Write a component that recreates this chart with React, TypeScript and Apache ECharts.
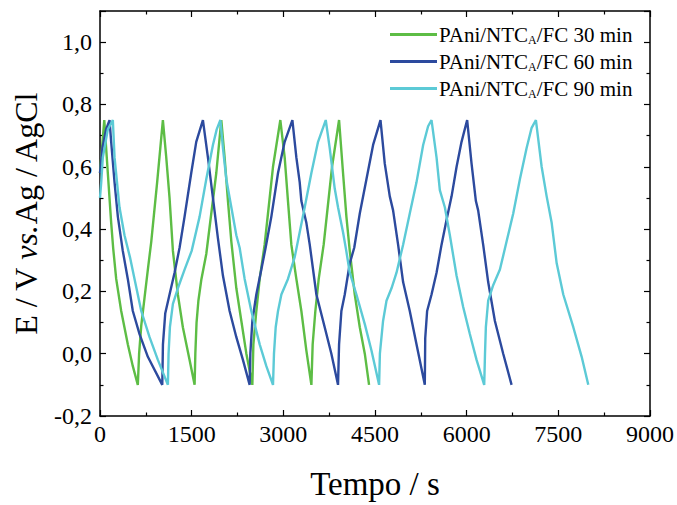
import React, { useEffect, useRef } from 'react';
import * as echarts from 'echarts';

const seriesNames = ['PAni/NTCA/FC 30 min', 'PAni/NTCA/FC 60 min', 'PAni/NTCA/FC 90 min'];
const seriesColors = ['#5dbd45', '#2c4a9e', '#5ccad6'];
const xTickValues = [0, 1500, 3000, 4500, 6000, 7500, 9000];
const yTickValues = [-0.2, 0.0, 0.2, 0.4, 0.6, 0.8, 1.0];

const green30: number[][] = [
  [0, 0.58], [70, 0.75],
  [128, 0.58], [183, 0.42], [215, 0.34], [265, 0.24], [347, 0.137], [455, 0.03], [537, -0.04], [619, -0.1],
  [640, 0.0], [675, 0.09], [729, 0.18], [783, 0.27], [839, 0.36], [935, 0.55], [1029, 0.75],
  [1084, 0.63], [1138, 0.5], [1193, 0.33], [1274, 0.19], [1356, 0.085], [1466, -0.02], [1548, -0.1],
  [1560, 0.0], [1580, 0.1], [1610, 0.17], [1660, 0.24], [1739, 0.32], [1903, 0.58], [1985, 0.75],
  [2039, 0.63], [2094, 0.49], [2149, 0.36], [2231, 0.21], [2313, 0.105], [2395, 0.0], [2493, -0.1],
  [2510, 0.03], [2558, 0.137], [2613, 0.24], [2694, 0.35], [2749, 0.45], [2831, 0.6], [2951, 0.75],
  [3022, 0.63], [3076, 0.49], [3131, 0.35], [3213, 0.24], [3295, 0.137], [3377, 0.01], [3459, -0.1],
  [3480, 0.03], [3524, 0.137], [3579, 0.24], [3660, 0.35], [3715, 0.45], [3797, 0.6], [3912, 0.75],
  [3977, 0.58], [4032, 0.44], [4087, 0.33], [4169, 0.19], [4251, 0.085], [4333, 0.0], [4403, -0.1],
];

const blue60: number[][] = [
  [0, 0.58], [40, 0.66], [100, 0.72], [156, 0.75],
  [183, 0.68], [238, 0.55], [292, 0.44], [373, 0.33], [455, 0.24], [537, 0.137], [647, 0.063], [783, -0.01], [1019, -0.1],
  [1030, 0.03], [1068, 0.13], [1138, 0.19], [1220, 0.26], [1302, 0.34], [1384, 0.44], [1493, 0.58], [1575, 0.68], [1684, 0.75],
  [1766, 0.63], [1848, 0.5], [1930, 0.37], [2012, 0.25], [2121, 0.137], [2231, 0.053], [2339, -0.02], [2449, -0.1],
  [2460, 0.0], [2493, 0.105], [2558, 0.19], [2640, 0.27], [2710, 0.34], [2804, 0.44], [2913, 0.58], [3022, 0.68], [3148, 0.75],
  [3213, 0.63], [3268, 0.55], [3295, 0.49], [3377, 0.42], [3432, 0.35], [3541, 0.19], [3677, 0.085], [3786, 0.0], [3895, -0.1],
  [3912, 0.03], [3950, 0.137], [4005, 0.19], [4087, 0.29], [4160, 0.34], [4251, 0.45], [4360, 0.56], [4469, 0.67], [4590, 0.75],
  [4660, 0.61], [4742, 0.505], [4796, 0.46], [4878, 0.35], [4960, 0.23], [5069, 0.137], [5179, 0.03], [5315, -0.1],
  [5322, 0.05], [5353, 0.137], [5425, 0.19], [5507, 0.26], [5589, 0.35], [5671, 0.43], [5753, 0.505], [5835, 0.6], [5916, 0.68], [6008, 0.75],
  [6080, 0.61], [6151, 0.49], [6188, 0.46], [6270, 0.35], [6352, 0.23], [6462, 0.105], [6598, 0.0], [6735, -0.1],
];

const cyan90: number[][] = [
  [0, 0.5], [20, 0.55], [46, 0.63], [128, 0.72], [210, 0.75],
  [238, 0.63], [319, 0.47], [401, 0.38], [490, 0.31], [565, 0.24], [675, 0.137], [811, 0.053], [947, -0.02], [1111, -0.1],
  [1122, 0.0], [1144, 0.085], [1193, 0.16], [1274, 0.21], [1384, 0.27], [1500, 0.33], [1630, 0.44], [1739, 0.56], [1848, 0.67], [1910, 0.72], [1970, 0.75],
  [2012, 0.66], [2067, 0.56], [2149, 0.47], [2231, 0.38], [2285, 0.34], [2367, 0.24], [2476, 0.137], [2613, 0.03], [2722, -0.04], [2831, -0.1],
  [2847, 0.0], [2875, 0.085], [2913, 0.137], [2968, 0.19], [3076, 0.24], [3186, 0.31], [3350, 0.47], [3459, 0.58], [3568, 0.68], [3694, 0.75],
  [3759, 0.66], [3841, 0.53], [3895, 0.47], [3977, 0.39], [4030, 0.33], [4087, 0.26], [4196, 0.19], [4333, 0.095], [4442, 0.01], [4567, -0.1],
  [4580, 0.0], [4632, 0.105], [4688, 0.17], [4770, 0.21], [4852, 0.26], [4960, 0.35], [5069, 0.45], [5179, 0.55], [5288, 0.67], [5369, 0.73], [5425, 0.75],
  [5507, 0.63], [5561, 0.525], [5643, 0.47], [5725, 0.38], [5835, 0.25], [5943, 0.15], [6052, 0.063], [6162, -0.02], [6287, -0.1],
  [6300, 0.0], [6314, 0.085], [6352, 0.17], [6434, 0.22], [6544, 0.27], [6653, 0.36], [6762, 0.45], [6871, 0.56], [6981, 0.66], [7063, 0.725], [7133, 0.75],
  [7227, 0.6], [7309, 0.505], [7391, 0.42], [7473, 0.29], [7581, 0.19], [7745, 0.085], [7882, -0.01], [7990, -0.1],
];

const seriesData = [green30, blue60, cyan90];

const FONT = 'Liberation Serif';

export default function App() {
  const ref = useRef<HTMLDivElement>(null);
  useEffect(() => {
    document.body.style.margin = '0';
    const chart = echarts.init(ref.current!, null, { renderer: 'svg' });
    const xMin = xTickValues[0];
    const xMax = xTickValues[xTickValues.length - 1];
    const xInterval = xTickValues[1] - xTickValues[0];
    const yMin = yTickValues[0];
    const yInterval = 0.2;
    const yMax = 1.1;
    const isYTick = (v: number) => yTickValues.some((t) => Math.abs(t - v) < 1e-6);
    const axisLine = { show: true, onZero: false, lineStyle: { color: '#000', width: 1.5 } };
    const tick = { show: true, inside: true, length: 6, lineStyle: { color: '#000', width: 1.2 } };
    const minor = { show: true, splitNumber: 2, length: 3.5, lineStyle: { color: '#000', width: 1.2 } };
    chart.setOption({
      animation: false,
      backgroundColor: '#fff',
      grid: { left: 100, right: 27, top: 11, bottom: 81, containLabel: false },
      legend: {
        orient: 'vertical',
        left: 385,
        top: 19,
        itemGap: 5,
        itemWidth: 47,
        itemHeight: 3,
        icon: 'rect',
        data: seriesNames,
        formatter: (name: string) => name.replace('NTCA', 'NTC{sub|A}'),
        textStyle: {
          fontFamily: FONT,
          fontSize: 21,
          color: '#000',
          padding: [0, 0, 0, -3],
          rich: {
            sub: { fontFamily: FONT, fontSize: 12, color: '#000', padding: [11, 0, 0, 0] },
          },
        },
      },
      xAxis: [
        {
          type: 'value',
          min: xMin,
          max: xMax,
          interval: xInterval,
          position: 'bottom',
          name: 'Tempo / s',
          nameLocation: 'middle',
          nameGap: 51,
          nameTextStyle: { fontFamily: FONT, fontSize: 33, color: '#000' },
          axisLine,
          axisTick: tick,
          minorTick: minor,
          splitLine: { show: false },
          axisLabel: { fontFamily: FONT, fontSize: 24, color: '#000', margin: 6, formatter: (v: number) => String(v) },
        },
        {
          type: 'value',
          min: xMin,
          max: xMax,
          interval: xInterval,
          position: 'top',
          axisLine,
          axisTick: tick,
          minorTick: minor,
          splitLine: { show: false },
          axisLabel: { show: false },
        },
      ],
      yAxis: [
        {
          type: 'value',
          min: yMin,
          max: yMax,
          interval: yInterval,
          position: 'left',
          name: 'E / V {i|vs.}Ag / AgCl',
          nameLocation: 'middle',
          nameGap: 58,
          nameRotate: 90,
          nameTextStyle: {
            fontFamily: FONT,
            fontSize: 32,
            color: '#000',
            rich: { i: { fontFamily: FONT, fontSize: 32, fontStyle: 'italic', color: '#000' } },
          },
          axisLine,
          axisTick: tick,
          minorTick: minor,
          splitLine: { show: false },
          axisLabel: {
            fontFamily: FONT,
            fontSize: 24,
            color: '#000',
            margin: 8,
            formatter: (v: number) => (isYTick(v) ? v.toFixed(1).replace('.', ',') : ''),
          },
        },
        {
          type: 'value',
          min: yMin,
          max: yMax,
          interval: yInterval,
          position: 'right',
          axisLine,
          axisTick: tick,
          minorTick: minor,
          splitLine: { show: false },
          axisLabel: { show: false },
        },
      ],
      series: seriesData.map((d, i) => ({
        name: seriesNames[i],
        type: 'line',
        data: d,
        xAxisIndex: 0,
        yAxisIndex: 0,
        showSymbol: false,
        symbol: 'none',
        smooth: false,
        lineStyle: { color: seriesColors[i], width: 2.4 },
        itemStyle: { color: seriesColors[i] },
        emphasis: { disabled: true },
      })),
    });
    return () => chart.dispose();
  }, []);
  return <div ref={ref} style={{ width: 677, height: 505 }} />;
}
